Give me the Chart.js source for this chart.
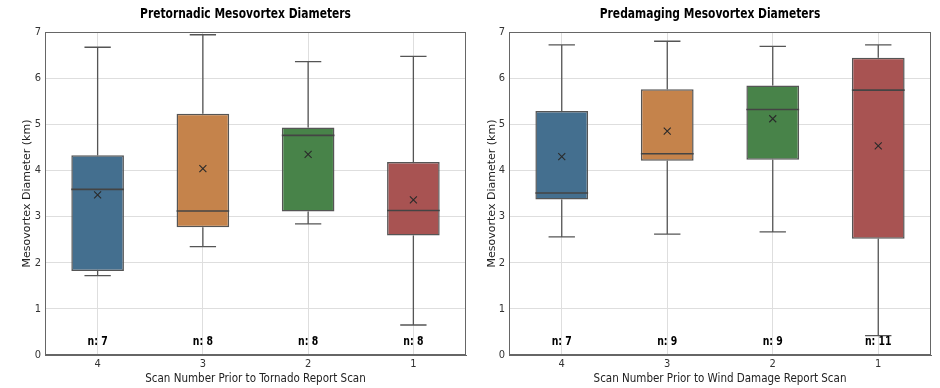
<!DOCTYPE html>
<html>
<head>
<meta charset="utf-8">
<script src="https://cdn.jsdelivr.net/npm/chart.js@4"></script>
<style>
  body { margin: 0; background: #fff; }
  .panel { position: absolute; top: 0; width: 470px; height: 388px; }
</style>
</head>
<body>
<div class="panel" style="left:0"><canvas id="tornadoChart" width="470" height="388"></canvas></div>
<div class="panel" style="left:470px"><canvas id="windChart" width="470" height="388"></canvas></div>
<script>
var scanLabels = ["4", "3", "2", "1"];
var boxColors = ["#446f8f", "#c5834b", "#488349", "#a85352"];

// pretornadic
var tornadoMin = [1.72, 2.35, 2.84, 0.65];
var tornadoQ1 = [1.82, 2.77, 3.11, 2.59];
var tornadoMedian = [3.59, 3.12, 4.76, 3.13];
var tornadoQ3 = [4.33, 5.23, 4.93, 4.18];
var tornadoMax = [6.67, 6.94, 6.36, 6.47];
var tornadoMean = [3.47, 4.04, 4.35, 3.36];
var tornadoCounts = [7, 8, 8, 8];

// predamaging
var windMin = [2.56, 2.62, 2.67, 0.42];
var windQ1 = [3.37, 4.21, 4.23, 2.52];
var windMedian = [3.51, 4.36, 5.32, 5.74];
var windQ3 = [5.29, 5.76, 5.84, 6.44];
var windMax = [6.72, 6.80, 6.69, 6.72];
var windMean = [4.30, 4.85, 5.12, 4.53];
var windCounts = [7, 9, 9, 11];

var yTicks = [0, 1, 2, 3, 4, 5, 6, 7];

var cond = "'DejaVu Sans Condensed', 'DejaVu Sans', sans-serif";

// text squeezed sideways, like the original figure
function squeezedText(ctx, text, x, y, sx) {
    ctx.save();
    ctx.translate(x, y);
    ctx.scale(sx, 1);
    ctx.fillText(text, 0, 0);
    ctx.restore();
}

/*********** box plot extras: whiskers, medians, means, counts, frame, title ***********/
var boxExtras = {
    id: "boxExtras",
    afterDatasetsDraw: function (chart, args, opts) {
        var ctx = chart.ctx;
        var y = chart.scales.y;
        var area = chart.chartArea;
        var bars = chart.getDatasetMeta(0).data;
        ctx.save();
        bars.forEach(function (bar, i) {
            var x = bar.x;
            var half = bar.width / 2;
            var cap = bar.width / 4;
            ctx.strokeStyle = "#555";
            ctx.lineWidth = 1.3;
            ctx.beginPath();
            ctx.moveTo(x, y.getPixelForValue(opts.q3[i]));
            ctx.lineTo(x, y.getPixelForValue(opts.max[i]));
            ctx.moveTo(x - cap, y.getPixelForValue(opts.max[i]));
            ctx.lineTo(x + cap, y.getPixelForValue(opts.max[i]));
            ctx.moveTo(x, y.getPixelForValue(opts.q1[i]));
            ctx.lineTo(x, y.getPixelForValue(opts.min[i]));
            ctx.moveTo(x - cap, y.getPixelForValue(opts.min[i]));
            ctx.lineTo(x + cap, y.getPixelForValue(opts.min[i]));
            ctx.stroke();

            // median
            ctx.strokeStyle = "#444";
            ctx.lineWidth = 1.6;
            ctx.beginPath();
            ctx.moveTo(x - half, y.getPixelForValue(opts.median[i]));
            ctx.lineTo(x + half, y.getPixelForValue(opts.median[i]));
            ctx.stroke();

            // mean
            var my = y.getPixelForValue(opts.mean[i]);
            ctx.strokeStyle = "#2a2a2a";
            ctx.lineWidth = 1.1;
            ctx.beginPath();
            ctx.moveTo(x - 3.5, my - 3.5);
            ctx.lineTo(x + 3.5, my + 3.5);
            ctx.moveTo(x + 3.5, my - 3.5);
            ctx.lineTo(x - 3.5, my + 3.5);
            ctx.stroke();

            // counts
            ctx.fillStyle = "#000";
            ctx.font = "bold 13px " + cond;
            ctx.textAlign = "center";
            ctx.textBaseline = "middle";
            squeezedText(ctx, "n: " + opts.counts[i], x, y.getPixelForValue(0.28), 0.8);
        });

        // frame
        ctx.strokeStyle = "#666";
        ctx.lineWidth = 1;
        ctx.strokeRect(area.left + 0.5, area.top + 0.5, area.right - area.left - 1, area.bottom - area.top - 1);

        // title
        ctx.fillStyle = "#000";
        ctx.font = "bold 14px " + cond;
        ctx.textAlign = "center";
        ctx.textBaseline = "middle";
        squeezedText(ctx, opts.title, (area.left + area.right) / 2 - 10, 14, 0.85);
        ctx.restore();
    }
};

function makeBoxChart(id, stats, xTitle, yWidth, yTitlePad, padRight) {
    var ranges = stats.q1.map(function (v, i) { return [v, stats.q3[i]]; });
    return new Chart(id, {
        type: "bar",
        data: {
            labels: scanLabels,
            datasets: [{
                data: ranges,
                backgroundColor: boxColors,
                borderColor: "#555",
                borderWidth: 1.5,
                borderSkipped: false,
                barPercentage: 0.5,
                categoryPercentage: 1
            }]
        },
        options: {
            responsive: false,
            animation: false,
            devicePixelRatio: 1,
            layout: { padding: { top: 32, right: padRight, bottom: 0, left: 0 } },
            plugins: {
                legend: { display: false },
                tooltip: { enabled: false },
                boxExtras: {
                    min: stats.min, q1: stats.q1, median: stats.median, q3: stats.q3,
                    max: stats.max, mean: stats.mean, counts: stats.counts, title: stats.title
                }
            },
            scales: {
                x: {
                    offset: true,
                    grid: { offset: false, color: "#dedede", drawTicks: false },
                    border: { color: "#666" },
                    ticks: { color: "#333", padding: 3, font: { family: cond, size: 11 } },
                    title: {
                        display: true, text: xTitle, color: "#222",
                        font: { family: cond, size: 11.5 }, padding: { top: 3, bottom: 2 }
                    },
                    afterFit: function (s) { s.height = 33; }
                },
                y: {
                    min: 0,
                    max: 7,
                    afterBuildTicks: function (s) { s.ticks = yTicks.map(function (v) { return { value: v }; }); },
                    grid: { color: "#dedede", drawTicks: false },
                    border: { color: "#666" },
                    ticks: { color: "#333", padding: 4, font: { family: cond, size: 11 } },
                    title: {
                        display: true, text: "Mesovortex Diameter (km)", color: "#222",
                        font: { family: "'DejaVu Sans', sans-serif", size: 11 },
                        padding: { top: yTitlePad, bottom: 0 }
                    },
                    afterFit: function (s) { s.width = yWidth; }
                }
            }
        },
        plugins: [boxExtras]
    });
}

makeBoxChart("tornadoChart", {
    min: tornadoMin, q1: tornadoQ1, median: tornadoMedian, q3: tornadoQ3,
    max: tornadoMax, mean: tornadoMean, counts: tornadoCounts,
    title: "Pretornadic Mesovortex Diameters"
}, "Scan Number Prior to Tornado Report Scan", 45, 21, 4);

makeBoxChart("windChart", {
    min: windMin, q1: windQ1, median: windMedian, q3: windQ3,
    max: windMax, mean: windMean, counts: windCounts,
    title: "Predamaging Mesovortex Diameters"
}, "Scan Number Prior to Wind Damage Report Scan", 39, 16, 9);
</script>
</body>
</html>
